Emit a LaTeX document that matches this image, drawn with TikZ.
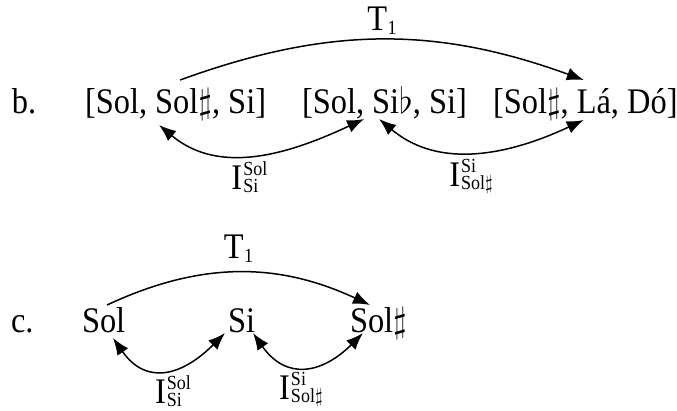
\RequirePackage{fix-cm}
\documentclass[tikz,border=0pt]{standalone}
\usepackage{fontspec}
\setmainfont{Liberation Serif}[FakeStretch=0.9]
\usetikzlibrary{arrows.meta,calc}
\newcommand\scs{\fontsize{20}{20}\selectfont}
\newlength\ssa
\newlength\ssb
\newcommand\supsub[2]{\settowidth\ssa{\scs #1}\settowidth\ssb{\scs #2}%
  \ifdim\ssb>\ssa\setlength\ssa{\ssb}\fi
  \rlap{\raisebox{14pt}{\scs #1}}\rlap{\raisebox{-3pt}{\scs #2}}\hspace{\ssa}}
\newcommand\Tone{T\kern0.5pt\raisebox{-4pt}{\scs 1}}
\tikzset{
  txt/.style={inner sep=0pt, outer sep=0pt, anchor=base west, font=\fontsize{36}{40}\selectfont},
  lbl/.style={inner sep=0pt, outer sep=0pt, font=\fontsize{36}{40}\selectfont},
  arc/.style={line width=1.5pt, -{Latex[length=17pt,width=13pt]}},
  darc/.style={line width=1.5pt, {Latex[length=17pt,width=13pt]}-{Latex[length=17pt,width=13pt]}},
}
\begin{document}
\begin{tikzpicture}[x=1pt,y=1pt]
\useasboundingbox (0,0) rectangle (677,-410);
% row b
\node[txt] (lb) at (12,-113) {b.};
\node[txt] (b1a) at (85,-113) {[Sol,};
\node[txt] (b1s) at ([xshift=8pt]b1a.base east) {Sol$\sharp$};
\node[txt] (b1c) at (b1s.base east) {, Si]};
\node[txt] (b2a) at (302,-113) {[Sol,};
\node[txt] (b2s) at ([xshift=8pt]b2a.base east) {Si$\flat$};
\node[txt] (b2c) at (b2s.base east) {, Si]};
\node[txt] (b3a) at (493,-113) {[Sol$\sharp$,};
\node[txt] (b3l) at ([xshift=8pt]b3a.base east) {Lá};
\node[txt] (b3c) at (b3l.base east) {, Dó]};
% row c
\node[txt] (lc) at (11,-332) {c.};
\node[txt] (c1) at (82,-332) {Sol};
\node[txt] (c2) at (228,-332) {Si};
\node[txt] (c3) at (350,-332) {Sol$\sharp$};
% arcs b
\draw[arc] ([shift={(25,33)}]b1s.base west) to[bend left=20]
  node[lbl, above=5pt] {\Tone} ([shift={(7,33)}]b3l.base west);
\draw[darc] ([shift={(4,-12)}]b1s.base west) to[out=-40,in=-155]
  node[lbl, below=8pt, xshift=-20pt] {I\kern1pt\supsub{Sol}{Si}} ([shift={(-8,-6)}]b2s.base west);
\draw[darc] ([shift={(7,-6)}]b2s.base west) to[out=-40,in=-155]
  node[lbl, below=8pt, xshift=-22pt] {I\kern1pt\supsub{Si}{Sol$\sharp$}} ([shift={(7,-7)}]b3l.base west);
% arcs c
\draw[arc] ([shift={(25,27)}]c1.base west) to[bend left=25]
  node[lbl, above=10pt] {\Tone} ([shift={(20,27)}]c3.base west);
\draw[darc] ([shift={(31,-6)}]c1.base west) to[out=-55,in=-135,looseness=1.35]
  node[lbl, below=6pt, xshift=-5pt] {I\kern1pt\supsub{Sol}{Si}} ([shift={(-3,-1)}]c2.base west);
\draw[darc] ([shift={(25,-1)}]c2.base west) to[out=-55,in=-135,looseness=1.35]
  node[lbl, below=6pt, xshift=-20pt] {I\kern1pt\supsub{Si}{Sol$\sharp$}} ([shift={(13,-1)}]c3.base west);
\end{tikzpicture}
\end{document}
